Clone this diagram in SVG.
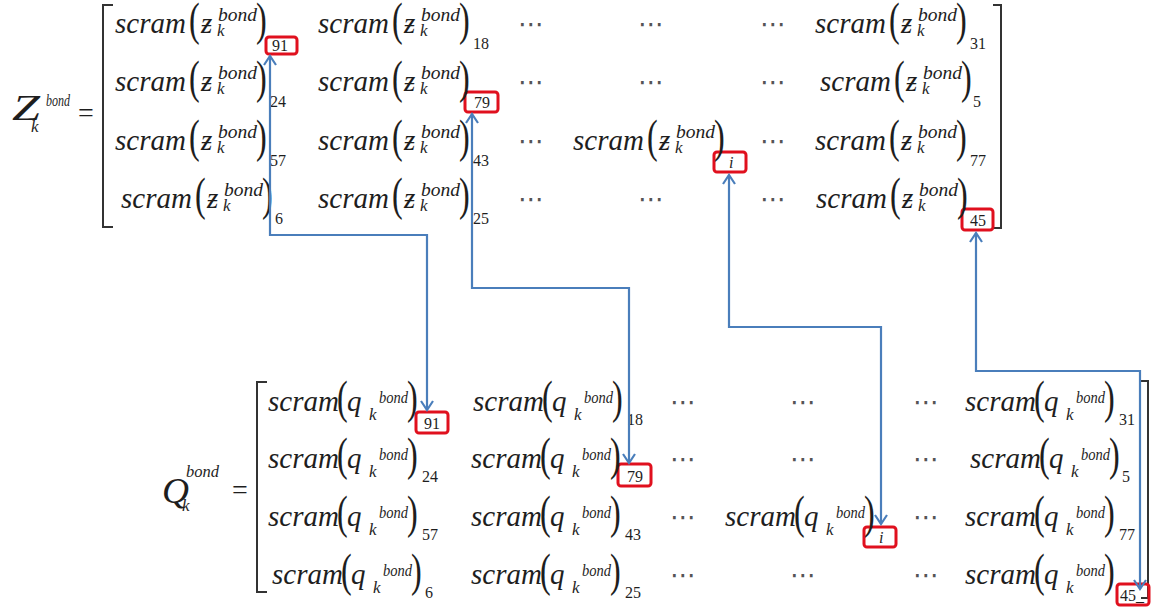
<svg xmlns="http://www.w3.org/2000/svg" width="1151" height="611" viewBox="0 0 1151 611">
<defs>
<style>
text { font-family: "Liberation Serif", "Times New Roman", "DejaVu Serif", serif; fill: #1e1e1e; }
.fn { font-size: 29px; font-style: italic; }
.pr { font-size: 46px; }
.v { font-size: 29px; font-style: italic; }
.sup { font-size: 19px; font-style: italic; }
.supq { font-size: 16px; font-style: italic; }
.sub { font-size: 17px; font-style: italic; }
.idx { font-size: 16px; }
.dots { font-family: "DejaVu Sans", sans-serif; font-size: 26px; fill: #555; }
.big { font-size: 36px; font-style: italic; }
.eq { font-size: 28px; }
.brk { fill: none; stroke: #333; stroke-width: 2; }
.hl { fill: none; stroke: #e0101e; stroke-width: 3; }
.conn { fill: none; stroke: #4a7ebb; stroke-width: 2.2; marker-start: url(#arr); marker-end: url(#arr); }
</style>
<marker id="arr" viewBox="0 0 12 14" refX="10" refY="7" markerWidth="12" markerHeight="14" markerUnits="userSpaceOnUse" orient="auto-start-reverse">
<path d="M1,1 L10,7 L1,13" fill="none" stroke="#4a7ebb" stroke-width="2.2"/>
</marker>
</defs>
<rect width="1151" height="611" fill="#fff"/>

<!-- Top matrix -->
<g id="z-label">
<text class="big" x="12" y="120" textLength="28" lengthAdjust="spacingAndGlyphs">Z</text>
<text class="supq" x="46" y="106" textLength="24" lengthAdjust="spacingAndGlyphs">bond</text>
<text class="sub" x="31" y="132">k</text>
<text class="eq" x="78" y="122">=</text>
</g>
<g id="z-brackets">
<path class="brk" d="M113,5 H103 V227 H113"/>
<path class="brk" d="M993,5 H1001 V228 H993"/>
</g>

<g id="z-r1c1" transform="translate(115,33)">
<rect class="hl" x="151" y="4" width="31" height="17" rx="3"/>
<text class="fn" x="0" y="0">scram</text><text class="pr" transform="translate(74,2) scale(0.7,1)">(</text><text class="v" x="86" y="0">ƶ</text><text class="sup" x="103" y="-12" textLength="39" lengthAdjust="spacingAndGlyphs">bond</text><text class="sub" x="102" y="3">k</text><text class="pr" transform="translate(141,2) scale(0.7,1)">)</text><text class="idx" x="157" y="18">91</text>
</g>
<g id="z-r1c2" transform="translate(318,33)">
<text class="fn" x="0" y="0">scram</text><text class="pr" transform="translate(74,2) scale(0.7,1)">(</text><text class="v" x="86" y="0">ƶ</text><text class="sup" x="103" y="-12" textLength="39" lengthAdjust="spacingAndGlyphs">bond</text><text class="sub" x="102" y="3">k</text><text class="pr" transform="translate(141,2) scale(0.7,1)">)</text><text class="idx" x="155" y="16">18</text>
</g>
<g id="z-r1c6" transform="translate(815,33)">
<text class="fn" x="0" y="0">scram</text><text class="pr" transform="translate(74,2) scale(0.7,1)">(</text><text class="v" x="86" y="0">ƶ</text><text class="sup" x="103" y="-12" textLength="39" lengthAdjust="spacingAndGlyphs">bond</text><text class="sub" x="102" y="3">k</text><text class="pr" transform="translate(141,2) scale(0.7,1)">)</text><text class="idx" x="155" y="16">31</text>
</g>

<g id="z-r2c1" transform="translate(115,91)">
<text class="fn" x="0" y="0">scram</text><text class="pr" transform="translate(74,2) scale(0.7,1)">(</text><text class="v" x="86" y="0">ƶ</text><text class="sup" x="103" y="-12" textLength="39" lengthAdjust="spacingAndGlyphs">bond</text><text class="sub" x="102" y="3">k</text><text class="pr" transform="translate(141,2) scale(0.7,1)">)</text><text class="idx" x="155" y="16">24</text>
</g>
<g id="z-r2c2" transform="translate(318,91)">
<rect class="hl" x="147" y="1" width="33" height="20" rx="3"/>
<text class="fn" x="0" y="0">scram</text><text class="pr" transform="translate(74,2) scale(0.7,1)">(</text><text class="v" x="86" y="0">ƶ</text><text class="sup" x="103" y="-12" textLength="39" lengthAdjust="spacingAndGlyphs">bond</text><text class="sub" x="102" y="3">k</text><text class="pr" transform="translate(141,2) scale(0.7,1)">)</text><text class="idx" x="156" y="17">79</text>
</g>
<g id="z-r2c6" transform="translate(820,91)">
<text class="fn" x="0" y="0">scram</text><text class="pr" transform="translate(74,2) scale(0.7,1)">(</text><text class="v" x="86" y="0">ƶ</text><text class="sup" x="103" y="-12" textLength="39" lengthAdjust="spacingAndGlyphs">bond</text><text class="sub" x="102" y="3">k</text><text class="pr" transform="translate(141,2) scale(0.7,1)">)</text><text class="idx" x="153" y="16">5</text>
</g>

<g id="z-r3c1" transform="translate(115,150)">
<text class="fn" x="0" y="0">scram</text><text class="pr" transform="translate(74,2) scale(0.7,1)">(</text><text class="v" x="86" y="0">ƶ</text><text class="sup" x="103" y="-12" textLength="39" lengthAdjust="spacingAndGlyphs">bond</text><text class="sub" x="102" y="3">k</text><text class="pr" transform="translate(141,2) scale(0.7,1)">)</text><text class="idx" x="155" y="16">57</text>
</g>
<g id="z-r3c2" transform="translate(318,150)">
<text class="fn" x="0" y="0">scram</text><text class="pr" transform="translate(74,2) scale(0.7,1)">(</text><text class="v" x="86" y="0">ƶ</text><text class="sup" x="103" y="-12" textLength="39" lengthAdjust="spacingAndGlyphs">bond</text><text class="sub" x="102" y="3">k</text><text class="pr" transform="translate(141,2) scale(0.7,1)">)</text><text class="idx" x="155" y="16">43</text>
</g>
<g id="z-r3c4" transform="translate(573,150)">
<rect class="hl" x="141" y="2" width="32" height="20" rx="3"/>
<text class="fn" x="0" y="0">scram</text><text class="pr" transform="translate(74,2) scale(0.7,1)">(</text><text class="v" x="86" y="0">ƶ</text><text class="sup" x="103" y="-12" textLength="39" lengthAdjust="spacingAndGlyphs">bond</text><text class="sub" x="102" y="3">k</text><text class="pr" transform="translate(141,2) scale(0.7,1)">)</text><text class="idx" x="156" y="18" font-style="italic">i</text>
</g>
<g id="z-r3c6" transform="translate(815,150)">
<text class="fn" x="0" y="0">scram</text><text class="pr" transform="translate(74,2) scale(0.7,1)">(</text><text class="v" x="86" y="0">ƶ</text><text class="sup" x="103" y="-12" textLength="39" lengthAdjust="spacingAndGlyphs">bond</text><text class="sub" x="102" y="3">k</text><text class="pr" transform="translate(141,2) scale(0.7,1)">)</text><text class="idx" x="155" y="16">77</text>
</g>

<g id="z-r4c1" transform="translate(121,208)">
<text class="fn" x="0" y="0">scram</text><text class="pr" transform="translate(74,2) scale(0.7,1)">(</text><text class="v" x="86" y="0">ƶ</text><text class="sup" x="103" y="-12" textLength="39" lengthAdjust="spacingAndGlyphs">bond</text><text class="sub" x="102" y="3">k</text><text class="pr" transform="translate(141,2) scale(0.7,1)">)</text><text class="idx" x="154" y="16">6</text>
</g>
<g id="z-r4c2" transform="translate(318,208)">
<text class="fn" x="0" y="0">scram</text><text class="pr" transform="translate(74,2) scale(0.7,1)">(</text><text class="v" x="86" y="0">ƶ</text><text class="sup" x="103" y="-12" textLength="39" lengthAdjust="spacingAndGlyphs">bond</text><text class="sub" x="102" y="3">k</text><text class="pr" transform="translate(141,2) scale(0.7,1)">)</text><text class="idx" x="155" y="16">25</text>
</g>
<g id="z-r4c6" transform="translate(816,208)">
<rect class="hl" x="146" y="1" width="31" height="21" rx="3"/>
<text class="fn" x="0" y="0">scram</text><text class="pr" transform="translate(74,2) scale(0.7,1)">(</text><text class="v" x="86" y="0">ƶ</text><text class="sup" x="103" y="-12" textLength="39" lengthAdjust="spacingAndGlyphs">bond</text><text class="sub" x="102" y="3">k</text><text class="pr" transform="translate(141,2) scale(0.7,1)">)</text><text class="idx" x="154" y="18">45</text>
</g>

<g id="z-dots">
<text class="dots" x="518" y="33">⋯</text><text class="dots" x="638" y="33">⋯</text><text class="dots" x="760" y="33">⋯</text>
<text class="dots" x="518" y="91">⋯</text><text class="dots" x="638" y="91">⋯</text><text class="dots" x="760" y="91">⋯</text>
<text class="dots" x="518" y="150">⋯</text><text class="dots" x="760" y="150">⋯</text>
<text class="dots" x="518" y="208">⋯</text><text class="dots" x="638" y="208">⋯</text><text class="dots" x="760" y="208">⋯</text>
</g>

<!-- Bottom matrix -->
<g id="q-label">
<text class="big" x="162" y="503" textLength="27" lengthAdjust="spacingAndGlyphs">Q</text>
<text class="supq" x="186" y="477" textLength="33" lengthAdjust="spacingAndGlyphs">bond</text>
<text class="sub" x="182" y="511">k</text>
<text class="eq" x="232" y="499">=</text>
</g>
<g id="q-brackets">
<path class="brk" d="M267,382 H257 V592 H267"/>
<path class="brk" d="M1141,381 H1148 V598 H1141"/>
</g>

<g id="q-r1c1" transform="translate(268,411)">
<rect class="hl" x="148" y="1" width="32" height="21" rx="3"/>
<text class="fn" x="0" y="0">scram</text><text class="pr" transform="translate(69,2) scale(0.7,1)">(</text><text class="v" x="79" y="0">q</text><text class="supq" x="111" y="-8" textLength="29" lengthAdjust="spacingAndGlyphs">bond</text><text class="sub" x="101" y="9">k</text><text class="pr" transform="translate(139,2) scale(0.7,1)">)</text><text class="idx" x="156" y="18">91</text>
</g>
<g id="q-r1c2" transform="translate(473,411)">
<text class="fn" x="0" y="0">scram</text><text class="pr" transform="translate(69,2) scale(0.7,1)">(</text><text class="v" x="79" y="0">q</text><text class="supq" x="111" y="-8" textLength="29" lengthAdjust="spacingAndGlyphs">bond</text><text class="sub" x="101" y="9">k</text><text class="pr" transform="translate(139,2) scale(0.7,1)">)</text><text class="idx" x="154" y="14">18</text>
</g>
<g id="q-r1c6" transform="translate(965,411)">
<text class="fn" x="0" y="0">scram</text><text class="pr" transform="translate(69,2) scale(0.7,1)">(</text><text class="v" x="79" y="0">q</text><text class="supq" x="111" y="-8" textLength="29" lengthAdjust="spacingAndGlyphs">bond</text><text class="sub" x="101" y="9">k</text><text class="pr" transform="translate(139,2) scale(0.7,1)">)</text><text class="idx" x="154" y="14">31</text>
</g>

<g id="q-r2c1" transform="translate(268,468)">
<text class="fn" x="0" y="0">scram</text><text class="pr" transform="translate(69,2) scale(0.7,1)">(</text><text class="v" x="79" y="0">q</text><text class="supq" x="111" y="-8" textLength="29" lengthAdjust="spacingAndGlyphs">bond</text><text class="sub" x="101" y="9">k</text><text class="pr" transform="translate(139,2) scale(0.7,1)">)</text><text class="idx" x="154" y="14">24</text>
</g>
<g id="q-r2c2" transform="translate(471,468)">
<rect class="hl" x="147" y="-4" width="33" height="22" rx="3"/>
<text class="fn" x="0" y="0">scram</text><text class="pr" transform="translate(69,2) scale(0.7,1)">(</text><text class="v" x="79" y="0">q</text><text class="supq" x="111" y="-8" textLength="29" lengthAdjust="spacingAndGlyphs">bond</text><text class="sub" x="101" y="9">k</text><text class="pr" transform="translate(139,2) scale(0.7,1)">)</text><text class="idx" x="156" y="14">79</text>
</g>
<g id="q-r2c6" transform="translate(970,468)">
<text class="fn" x="0" y="0">scram</text><text class="pr" transform="translate(69,2) scale(0.7,1)">(</text><text class="v" x="79" y="0">q</text><text class="supq" x="111" y="-8" textLength="29" lengthAdjust="spacingAndGlyphs">bond</text><text class="sub" x="101" y="9">k</text><text class="pr" transform="translate(139,2) scale(0.7,1)">)</text><text class="idx" x="152" y="14">5</text>
</g>

<g id="q-r3c1" transform="translate(268,526)">
<text class="fn" x="0" y="0">scram</text><text class="pr" transform="translate(69,2) scale(0.7,1)">(</text><text class="v" x="79" y="0">q</text><text class="supq" x="111" y="-8" textLength="29" lengthAdjust="spacingAndGlyphs">bond</text><text class="sub" x="101" y="9">k</text><text class="pr" transform="translate(139,2) scale(0.7,1)">)</text><text class="idx" x="154" y="14">57</text>
</g>
<g id="q-r3c2" transform="translate(471,526)">
<text class="fn" x="0" y="0">scram</text><text class="pr" transform="translate(69,2) scale(0.7,1)">(</text><text class="v" x="79" y="0">q</text><text class="supq" x="111" y="-8" textLength="29" lengthAdjust="spacingAndGlyphs">bond</text><text class="sub" x="101" y="9">k</text><text class="pr" transform="translate(139,2) scale(0.7,1)">)</text><text class="idx" x="154" y="14">43</text>
</g>
<g id="q-r3c4" transform="translate(725,526)">
<rect class="hl" x="139" y="1" width="32" height="20" rx="3"/>
<text class="fn" x="0" y="0">scram</text><text class="pr" transform="translate(69,2) scale(0.7,1)">(</text><text class="v" x="79" y="0">q</text><text class="supq" x="111" y="-8" textLength="29" lengthAdjust="spacingAndGlyphs">bond</text><text class="sub" x="101" y="9">k</text><text class="pr" transform="translate(139,2) scale(0.7,1)">)</text><text class="idx" x="154" y="17" font-style="italic">i</text>
</g>
<g id="q-r3c6" transform="translate(965,526)">
<text class="fn" x="0" y="0">scram</text><text class="pr" transform="translate(69,2) scale(0.7,1)">(</text><text class="v" x="79" y="0">q</text><text class="supq" x="111" y="-8" textLength="29" lengthAdjust="spacingAndGlyphs">bond</text><text class="sub" x="101" y="9">k</text><text class="pr" transform="translate(139,2) scale(0.7,1)">)</text><text class="idx" x="154" y="14">77</text>
</g>

<g id="q-r4c1" transform="translate(272,584)">
<text class="fn" x="0" y="0">scram</text><text class="pr" transform="translate(69,2) scale(0.7,1)">(</text><text class="v" x="79" y="0">q</text><text class="supq" x="111" y="-8" textLength="29" lengthAdjust="spacingAndGlyphs">bond</text><text class="sub" x="101" y="9">k</text><text class="pr" transform="translate(139,2) scale(0.7,1)">)</text><text class="idx" x="153" y="14">6</text>
</g>
<g id="q-r4c2" transform="translate(471,584)">
<text class="fn" x="0" y="0">scram</text><text class="pr" transform="translate(69,2) scale(0.7,1)">(</text><text class="v" x="79" y="0">q</text><text class="supq" x="111" y="-8" textLength="29" lengthAdjust="spacingAndGlyphs">bond</text><text class="sub" x="101" y="9">k</text><text class="pr" transform="translate(139,2) scale(0.7,1)">)</text><text class="idx" x="154" y="14">25</text>
</g>
<g id="q-r4c6" transform="translate(965,584)">
<rect class="hl" x="152" y="0" width="32" height="21" rx="3"/>
<text class="fn" x="0" y="0">scram</text><text class="pr" transform="translate(69,2) scale(0.7,1)">(</text><text class="v" x="79" y="0">q</text><text class="supq" x="111" y="-8" textLength="29" lengthAdjust="spacingAndGlyphs">bond</text><text class="sub" x="101" y="9">k</text><text class="pr" transform="translate(139,2) scale(0.7,1)">)</text><text class="idx" x="155" y="17">45_</text>
</g>

<g id="q-dots">
<text class="dots" x="670" y="411">⋯</text><text class="dots" x="790" y="411">⋯</text><text class="dots" x="913" y="411">⋯</text>
<text class="dots" x="670" y="468">⋯</text><text class="dots" x="790" y="468">⋯</text><text class="dots" x="913" y="468">⋯</text>
<text class="dots" x="670" y="526">⋯</text><text class="dots" x="913" y="526">⋯</text>
<text class="dots" x="670" y="584">⋯</text><text class="dots" x="790" y="584">⋯</text><text class="dots" x="913" y="584">⋯</text>
</g>

<g id="connectors">
<path class="conn" d="M270,56 V235 H427 V410"/>
<path class="conn" d="M472,114 V288 H629 V463"/>
<path class="conn" d="M729,175 V327 H881 V524"/>
<path class="conn" d="M976,233 V371 H1140 V589"/>
</g>
</svg>
